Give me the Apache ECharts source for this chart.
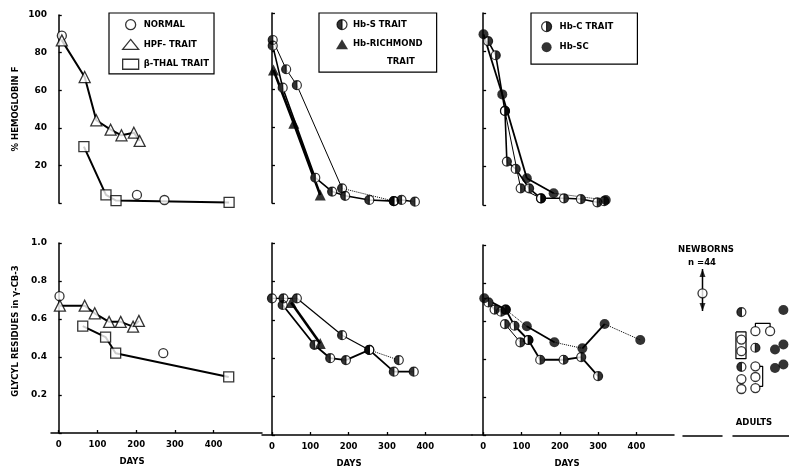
<!DOCTYPE html>
<html><head><meta charset="utf-8">
<script src="https://cdn.jsdelivr.net/npm/echarts@6/dist/echarts.min.js"></script>
<style>html,body{margin:0;padding:0;background:#fff}#c{width:789px;height:469px}</style>
</head><body><div id="c"></div>
<script>
// ================= DATA =================
// x = days ; top row y = % hemoglobin F ; bottom row y = glycyl residues in γ-CB-3
const dayTicks = [0, 100, 200, 300, 400];
const hbfTicks = [20, 40, 60, 80, 100];
const glyTicks = [0.2, 0.4, 0.6, 0.8, 1.0];

// Panel A : normal / HPF trait / beta-thal trait
const normalHbF = [[8, 89], [202, 4.3], [273, 1.6]];
const hpfHbF = [[8, 86.5], [67, 67], [97, 44], [134, 39], [162, 36], [194, 37.4], [209, 33]];
const thalHbF = [[65, 30], [122, 4.3], [148, 1.3], [440, 0.3]];
const normalGly = [[2, 0.72], [270, 0.42]];
const hpfGly = [[3, 0.67], [67, 0.67], [93, 0.63], [130, 0.585], [160, 0.585], [192, 0.56], [207, 0.59]];
const thalGly = [[62, 0.563], [121, 0.505], [147, 0.42], [439, 0.295]];

// Panel B : Hb-S trait / Hb-Richmond trait
const hbsHbF1 = [[2, 85.8], [37, 70.4], [65, 62], [183, 7.7], [318, 1]];
const hbsHbF1Style = ['solid', 'solid', 'solid', 'dotted'];
const hbsHbF2 = [[2, 82.8], [28, 60.7], [113, 13.3], [157, 6], [191, 3.8], [254, 1.6], [318, 1], [338, 1.6], [373, 0.7]];
const richHbF = [[4, 70], [57, 42], [126, 4.2]];
const hbsGly1 = [[0, 0.712], [30, 0.712], [65, 0.712], [183, 0.52], [254, 0.443], [331, 0.39]];
const hbsGly1Style = ['solid', 'solid', 'solid', 'solid', 'dotted'];
const hbsGly2 = [[28, 0.677], [111, 0.469], [152, 0.40], [193, 0.39], [254, 0.443], [318, 0.33], [370, 0.33]];
const richGly = [[50, 0.69], [126, 0.477]];

// Panel C : Hb-C trait / Hb-SC
const hbscHbF = [[1, 88.9], [50, 57.6], [114, 13.9], [184, 6.1], [320, 2.6]];
const hbscHbFStyle = ['solid', 'solid', 'solid', 'dotted'];
const hbcHbF1 = [[13, 85.4], [33, 78], [57, 49], [62, 22.6], [85, 18.8], [120, 8.7], [151, 3.5], [211, 3.5], [255, 3.1], [298, 1.4], [316, 2]];
const hbcHbF2 = [[57, 49], [98, 8.7], [151, 3.5]];
const hbscGly = [[3, 0.72], [59, 0.66], [114, 0.572], [186, 0.488], [259, 0.456], [317, 0.584], [410, 0.50]];
const hbscGlyStyle = ['solid', 'dotted', 'solid', 'dotted', 'solid', 'dotted'];
const hbcGly1 = [[14, 0.698], [30, 0.66], [47, 0.649], [59, 0.66], [82, 0.575], [118, 0.50], [149, 0.396], [210, 0.396], [256, 0.41], [300, 0.31]];
const hbcGly2 = [[57, 0.584], [97, 0.488], [118, 0.50]];

// Newborns (n = 44): mean and range
const newbornMean = [[1, 0.747]];
const newbornRange = [[1, 0.654], [1, 0.874]];

// Adults: [column, glycyl residues]
const adultsOpen = [[1.6, 0.549], [2.65, 0.549], [0.6, 0.505], [0.6, 0.444], [1.6, 0.365], [0.6, 0.298], [1.6, 0.309], [0.6, 0.246], [1.6, 0.251]];
const adultsHbS = [[0.6, 0.649], [0.6, 0.362]];
const adultsHbC = [[1.6, 0.462]];
const adultsSC = [[3.6, 0.66], [3.0, 0.453], [3.6, 0.479], [3.0, 0.356], [3.6, 0.374]];
const adultsBracketTop = [[1.6, 0.57], [1.6, 0.59], [2.65, 0.59], [2.65, 0.57]];
const adultsBox = [[0.21, 0.545], [0.93, 0.545], [0.93, 0.405], [0.21, 0.405], [0.21, 0.545]];
const adultsBracketSide = [[1.85, 0.365], [2.12, 0.365], [2.12, 0.26], [1.85, 0.26]];

// ================= CHART =================
const FONT = 'DejaVu Sans';
const TXT = {fontFamily: FONT, fontWeight: 'bold', fontSize: 8.5, color: '#000'};
const HALF_L = 'path://M50,0A50,50 0 1 1 50,100A50,50 0 1 1 50,0Z M50,0L50,100A50,50 0 0 0 50,0Z';
const HALF_R = 'path://M50,0A50,50 0 1 1 50,100A50,50 0 1 1 50,0Z M50,0A50,50 0 0 0 50,100L50,0Z';
const OPEN = {color: '#fff', borderColor: '#000', borderWidth: 1.3};
const SOLID = {color: '#000', borderColor: '#000', borderWidth: 1.2};
const MK = {
  open: {symbol: 'circle', symbolSize: 9, itemStyle: OPEN},
  tri: {symbol: 'triangle', symbolSize: 11, itemStyle: OPEN},
  sq: {symbol: 'rect', symbolSize: 10, itemStyle: OPEN},
  triF: {symbol: 'triangle', symbolSize: 11, itemStyle: {color: '#000'}},
  dot: {symbol: 'circle', symbolSize: 10, itemStyle: {color: '#000'}},
  halfL: {symbol: HALF_L, symbolSize: 9, itemStyle: SOLID},
  halfR: {symbol: HALF_R, symbolSize: 9, itemStyle: SOLID}
};

const series = [];
function trace(g, data, styles, width) {
  const st = Array.isArray(styles) ? styles : null;
  if (!st) {
    series.push({type: 'line', xAxisIndex: g, yAxisIndex: g, data, symbol: 'none', silent: true, z: 2,
      lineStyle: {color: '#000', width: width, type: styles || 'solid'}});
    return;
  }
  for (let i = 0; i < data.length - 1; i++) {
    series.push({type: 'line', xAxisIndex: g, yAxisIndex: g, data: [data[i], data[i + 1]], symbol: 'none', silent: true, z: 2,
      lineStyle: {color: '#000', width: st[i] === 'dotted' ? 1 : width, type: st[i]}});
  }
}
function pts(g, name, data, kind) {
  if (kind === 'halfL' || kind === 'halfR') {
    series.push({type: 'scatter', name: name + ' bg', xAxisIndex: g, yAxisIndex: g, data, symbol: 'circle', symbolSize: 9,
      itemStyle: {color: '#fff'}, z: 3, silent: true});
  }
  series.push(Object.assign({type: 'scatter', name, xAxisIndex: g, yAxisIndex: g, data, z: 4, silent: true}, MK[kind]));
}

// Panel A
trace(0, hpfHbF, 'solid', 2); trace(0, thalHbF, 'solid', 2);
pts(0, 'NORMAL', normalHbF, 'open'); pts(0, 'HPF- TRAIT', hpfHbF, 'tri'); pts(0, 'β-THAL TRAIT', thalHbF, 'sq');
trace(1, hpfGly, 'solid', 2); trace(1, thalGly, 'solid', 2);
pts(1, 'NORMAL', normalGly, 'open'); pts(1, 'HPF- TRAIT', hpfGly, 'tri'); pts(1, 'β-THAL TRAIT', thalGly, 'sq');
// Panel B
trace(2, hbsHbF1, hbsHbF1Style, 1); trace(2, hbsHbF2, 'solid', 1.6); trace(2, richHbF, 'solid', 2.6);
pts(2, 'Hb-S TRAIT', hbsHbF1, 'halfL'); pts(2, 'Hb-S TRAIT', hbsHbF2, 'halfL'); pts(2, 'Hb-RICHMOND TRAIT', richHbF, 'triF');
trace(3, hbsGly1, hbsGly1Style, 1.2); trace(3, hbsGly2, 'solid', 1.8); trace(3, richGly, 'solid', 2.6);
pts(3, 'Hb-RICHMOND TRAIT', richGly, 'triF'); pts(3, 'Hb-S TRAIT', hbsGly1, 'halfL'); pts(3, 'Hb-S TRAIT', hbsGly2, 'halfL');
// Panel C
trace(4, hbscHbF, hbscHbFStyle, 1.8); trace(4, hbcHbF1, 'solid', 1.6); trace(4, hbcHbF2, 'solid', 1);
pts(4, 'Hb-C TRAIT', hbcHbF1, 'halfR'); pts(4, 'Hb-C TRAIT', hbcHbF2, 'halfR'); pts(4, 'Hb-SC', hbscHbF, 'dot');
trace(5, hbscGly, hbscGlyStyle, 1.8); trace(5, hbcGly1, 'solid', 1.8); trace(5, hbcGly2, 'solid', 1);
pts(5, 'Hb-C TRAIT', hbcGly1, 'halfR'); pts(5, 'Hb-C TRAIT', hbcGly2, 'halfR'); pts(5, 'Hb-SC', hbscGly, 'dot');
// Newborns
trace(6, newbornRange, 'solid', 1.5);
series.push({type: 'scatter', xAxisIndex: 6, yAxisIndex: 6, data: [newbornRange[1]], symbol: 'triangle', symbolSize: [6, 8], symbolOffset: [0, '50%'], itemStyle: {color: '#000'}, z: 3, silent: true});
series.push({type: 'scatter', xAxisIndex: 6, yAxisIndex: 6, data: [newbornRange[0]], symbol: 'triangle', symbolSize: [6, 8], symbolRotate: 180, symbolOffset: [0, '-50%'], itemStyle: {color: '#000'}, z: 3, silent: true});
pts(6, 'newborn', newbornMean, 'open');
// Adults
trace(7, adultsBracketTop, 'solid', 1.2); trace(7, adultsBox, 'solid', 1.2); trace(7, adultsBracketSide, 'solid', 1.2);
pts(7, 'adult', adultsOpen, 'open'); pts(7, 'adult S', adultsHbS, 'halfL'); pts(7, 'adult C', adultsHbC, 'halfR'); pts(7, 'adult SC', adultsSC, 'dot');

const grids = [
  {left: 51, top: 15, width: 211, height: 188},
  {left: 51, top: 243, width: 211, height: 190},
  {left: 262, top: 13, width: 210, height: 190},
  {left: 262, top: 243, width: 210, height: 192},
  {left: 472, top: 13, width: 202, height: 192},
  {left: 472, top: 245, width: 202, height: 191},
  {left: 683, top: 245, width: 39, height: 191},
  {left: 733, top: 245, width: 56, height: 191}
].map(g => Object.assign({containLabel: false}, g));

const AXL = {show: true, lineStyle: {color: '#000', width: 1.5}};
const TICK = {show: true, inside: true, length: 3, lineStyle: {color: '#000', width: 1.3}};
const xRanges = [[-20, 525], [-20, 525], [-26, 522], [-26, 522], [-29, 498], [-29, 498], [0, 2], [0, 4]];
const namePad = {1: 49, 3: 36, 5: 12};
const xAxis = xRanges.map((r, i) => {
  const bottom = i % 2 === 1 && i < 6;
  const ax = {type: 'value', gridIndex: i, min: r[0], max: r[1], splitLine: {show: false},
    axisLine: {show: bottom || i >= 6, onZero: false, lineStyle: {color: '#000', width: 1.5}},
    axisTick: Object.assign({}, TICK, {show: bottom, customValues: dayTicks}),
    axisLabel: Object.assign({}, TXT, {show: bottom, customValues: dayTicks, margin: 7, fontSize: 8.5})};
  if (bottom) {
    ax.name = 'DAYS'; ax.nameLocation = 'middle'; ax.nameGap = 24;
    ax.nameTextStyle = Object.assign({}, TXT, {padding: [0, namePad[i], 0, 0]});
  }
  return ax;
});
const yAxis = grids.map((g, i) => {
  const top = i % 2 === 0 && i < 6;
  const ax = {type: 'value', gridIndex: i, min: 0, max: top ? 100 : 1, interval: top ? 20 : 0.2,
    splitLine: {show: false}, axisLine: Object.assign({}, AXL, {show: i < 6}),
    axisTick: Object.assign({}, TICK, {show: i < 6}),
    axisLabel: Object.assign({}, TXT, {show: i < 2, fontSize: 9, margin: 4,
      customValues: top ? hbfTicks : glyTicks,
      formatter: v => top ? String(v) : v.toFixed(1)})};
  if (i === 0) {
    ax.name = '% HEMOGLOBIN F'; ax.nameLocation = 'middle'; ax.nameGap = 31; ax.nameTextStyle = Object.assign({}, TXT);
  }
  if (i === 1) {
    ax.name = 'GLYCYL RESIDUES in γ-CB-3'; ax.nameLocation = 'middle'; ax.nameGap = 31;
    ax.nameTextStyle = Object.assign({}, TXT, {padding: [0, 0, 0, 14]});
  }
  return ax;
});

const LEG = {orient: 'vertical', itemWidth: 16, itemHeight: 10, selectedMode: false, borderColor: '#000', borderWidth: 1.2,
  textStyle: Object.assign({}, TXT), backgroundColor: '#fff', z: 10};
const legend = [
  Object.assign({}, LEG, {left: 109, top: 13, itemGap: 8.5, padding: [6, 5, 4, 13],
    data: [{name: 'NORMAL', icon: 'circle', itemStyle: OPEN}, {name: 'HPF- TRAIT', icon: 'triangle', itemStyle: OPEN},
           {name: 'β-THAL TRAIT', icon: 'rect', itemStyle: OPEN}]}),
  Object.assign({}, LEG, {left: 319, top: 13, itemWidth: 12, itemGap: 9, padding: [6, 14, 23, 17],
    formatter: n => n === 'Hb-RICHMOND TRAIT' ? 'Hb-RICHMOND' : n,
    data: [{name: 'Hb-S TRAIT', icon: HALF_L, itemStyle: SOLID}, {name: 'Hb-RICHMOND TRAIT', icon: 'triangle', itemStyle: {color: '#000'}}]}),
  Object.assign({}, LEG, {left: 531, top: 13, itemGap: 10, padding: [8, 24, 12, 10],
    data: [{name: 'Hb-C TRAIT', icon: HALF_R, itemStyle: SOLID}, {name: 'Hb-SC', icon: 'circle', itemStyle: {color: '#000'}}]})
];

const gtext = (t, x, y, align) => ({type: 'text', x, y, z: 20,
  style: {text: t, font: 'bold 8.5px "' + FONT + '"', fill: '#000', align: align || 'center', verticalAlign: 'middle'}});

const chart = echarts.init(document.getElementById('c'), null, {renderer: 'canvas'});
chart.setOption({
  animation: false,
  backgroundColor: '#fff',
  grid: grids, xAxis, yAxis, legend, series,
  graphic: [gtext('TRAIT', 387, 62, 'left'), gtext('NEWBORNS', 706, 250), gtext('n =44', 702, 263), gtext('ADULTS', 754, 423)]
});
</script></body></html>
